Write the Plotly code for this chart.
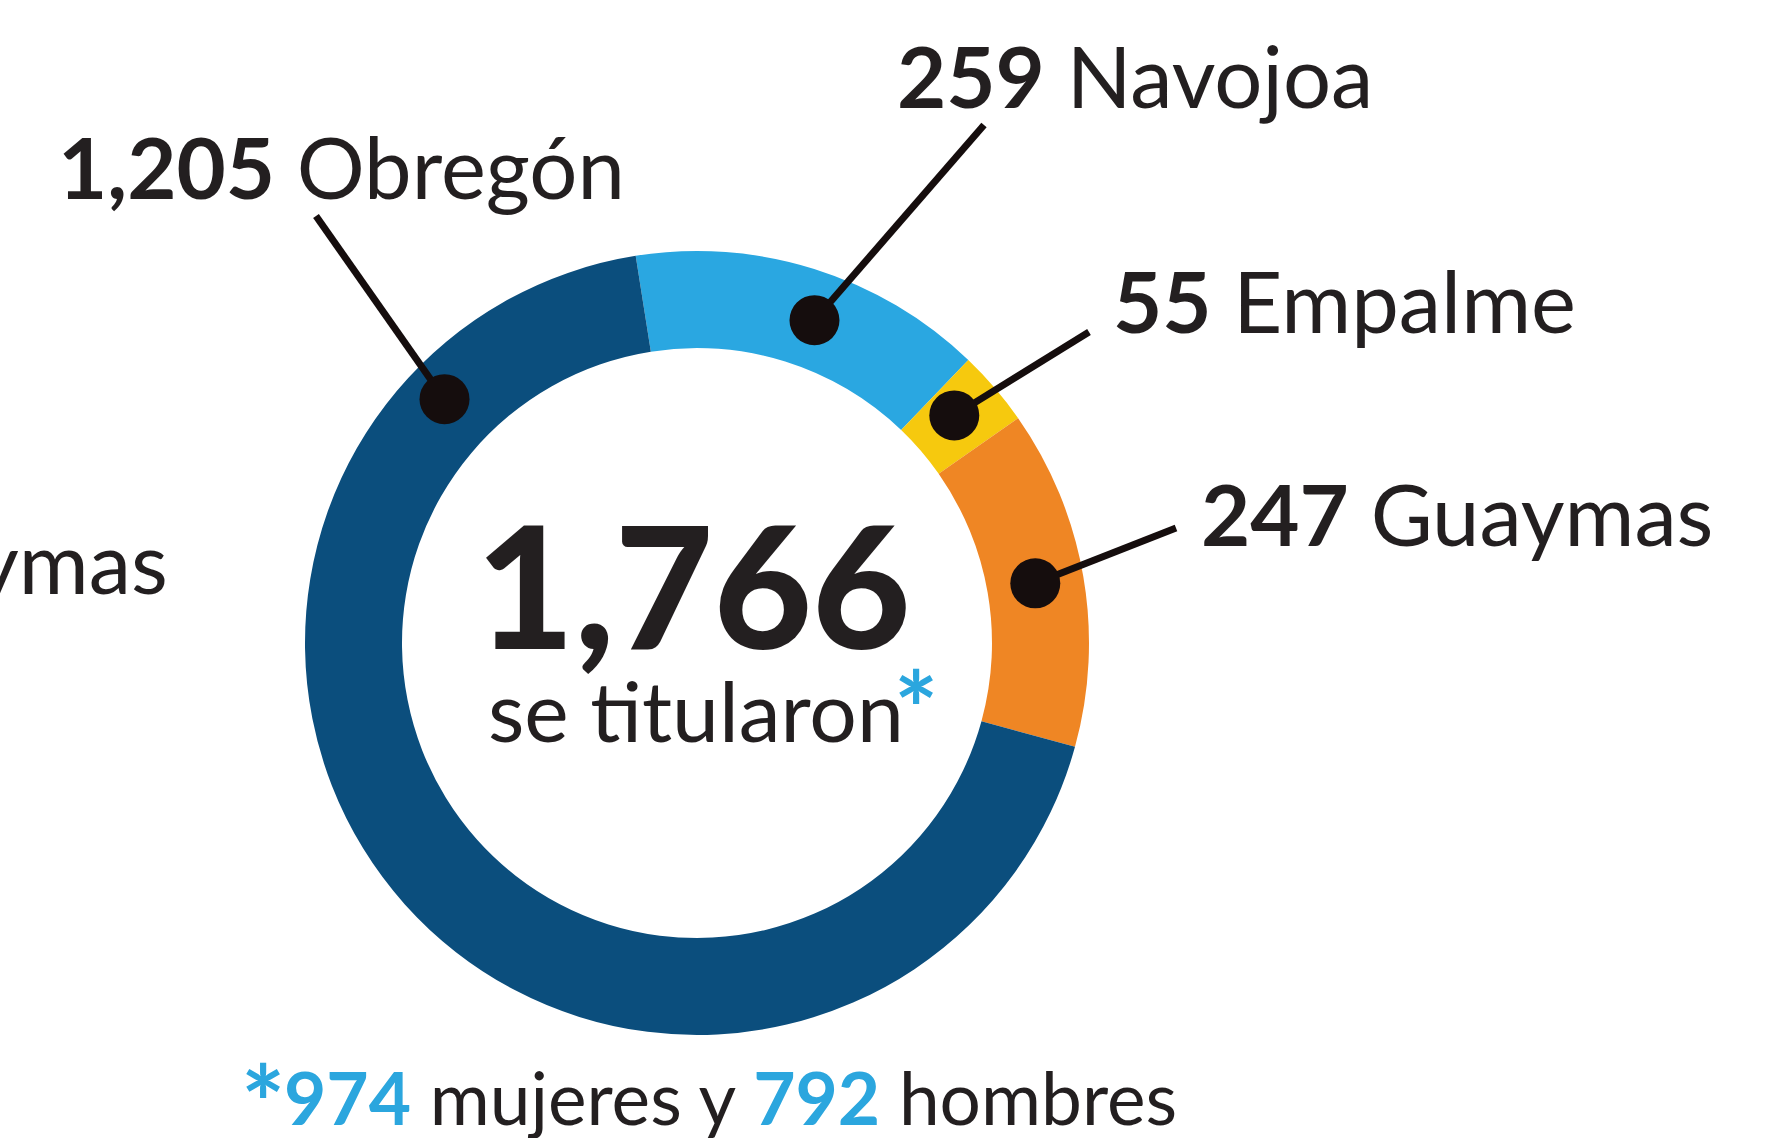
import math

import plotly.graph_objects as go

# data
regions = ["Navojoa", "Empalme", "Guaymas", "Obregón"]
graduates = [259, 55, 247, 1205]
total_graduates = 1766
women = 974
men = 792

W, H = 1782, 1138
TEXT = "#231f20"
BLUE_TEXT = "#2ba6de"
DOT = "#150d0d"
FONT = "Lato"
colors = {"Navojoa": "#2aa7e1", "Empalme": "#f6c90e", "Guaymas": "#ef8624", "Obregón": "#0b4e7d"}

# donut geometry in pixels
CX, CY, R_OUT, R_IN = 697, 643, 392, 295
R_MID = (R_OUT + R_IN) / 2

# where each leader dot sits on the ring (degrees clockwise from 12 o'clock, distance from centre)
dot_angle = {"Obregón": 314, "Navojoa": 20, "Empalme": 48.5, "Guaymas": 80}
dot_dist = {"Obregón": 351, "Navojoa": R_MID, "Empalme": R_MID, "Guaymas": R_MID}
# label placement: left x, baseline y, leader line start
label_pos = {
    "Obregón": (56, 198, (316, 216)),
    "Navojoa": (895, 107, (984, 125)),
    "Empalme": (1111, 332, (1089, 332)),
    "Guaymas": (1199, 545, (1176, 528)),
}
LABEL_SIZE = 85


def px(x):
    return x / W


def py(y):
    return 1 - y / H


def text_y(baseline, size):
    # annotation middle sits a bit above the baseline
    return py(baseline - 0.38 * size)


fig = go.Figure()
fig.add_trace(go.Pie(
    labels=regions, values=graduates, sort=False, direction="clockwise", rotation=-9,
    hole=R_IN / R_OUT, textinfo="none", hoverinfo="label+value",
    marker=dict(colors=[colors[r] for r in regions], line=dict(width=0)),
    domain=dict(x=[px(CX - R_OUT), px(CX + R_OUT)], y=[py(CY + R_OUT), py(CY - R_OUT)]),
    showlegend=False,
))

shapes = []
annotations = []
for name, value in zip(regions, graduates):
    a = math.radians(dot_angle[name])
    dx, dy = CX + dot_dist[name] * math.sin(a), CY - dot_dist[name] * math.cos(a)
    lx, base, (sx, sy) = label_pos[name]
    shapes.append(dict(type="line", xref="paper", yref="paper", x0=px(sx), y0=py(sy), x1=px(dx), y1=py(dy),
                       line=dict(color=DOT, width=7)))
    shapes.append(dict(type="circle", xref="paper", yref="paper", x0=px(dx - 25), x1=px(dx + 25),
                       y0=py(dy + 25), y1=py(dy - 25), fillcolor=DOT, line=dict(width=0)))
    annotations.append(dict(text=f"<b>{value:,}</b> {name}", x=px(lx), y=text_y(base, LABEL_SIZE),
                            xanchor="left", yanchor="middle", showarrow=False,
                            font=dict(size=LABEL_SIZE, color=TEXT, family=FONT)))

# partial label from the neighbouring chart, cut at the left edge
annotations.append(dict(text="Guaymas", x=px(170), y=text_y(593, LABEL_SIZE), xanchor="right", yanchor="middle",
                        showarrow=False, font=dict(size=LABEL_SIZE, color=TEXT, family=FONT)))

# centre text
annotations.append(dict(text=f"{total_graduates:,}", x=px(693), y=text_y(648, 170), xanchor="center",
                        yanchor="middle", showarrow=False,
                        font=dict(size=170, color=TEXT, family=FONT, weight=900)))
annotations.append(dict(text="se titularon", x=px(696), y=text_y(741, 84), xanchor="center", yanchor="middle",
                        showarrow=False, font=dict(size=84, color=TEXT, family=FONT)))
annotations.append(dict(text="<b>*</b>", x=px(916), y=py(706), xanchor="center", yanchor="middle",
                        showarrow=False, font=dict(size=104, color=BLUE_TEXT, family=FONT)))

# footnote
annotations.append(dict(text="<b>*</b>", x=px(263), y=py(1100), xanchor="center", yanchor="middle",
                        showarrow=False, font=dict(size=104, color=BLUE_TEXT, family=FONT)))
annotations.append(dict(
    text=(f"<span style='color:{BLUE_TEXT}'><b>{women}</b></span> mujeres y "
          f"<span style='color:{BLUE_TEXT}'><b>{men}</b></span> hombres"),
    x=px(282), y=text_y(1125, 73), xanchor="left", yanchor="middle", showarrow=False,
    font=dict(size=73, color=TEXT, family=FONT)))

fig.update_layout(
    width=W, height=H, margin=dict(l=0, r=0, t=0, b=0),
    paper_bgcolor="white", plot_bgcolor="white",
    shapes=shapes, annotations=annotations,
)
fig.write_html("out.html", config={"displayModeBar": False},
               post_script="document.body.style.margin='0';document.body.style.overflow='hidden';")
